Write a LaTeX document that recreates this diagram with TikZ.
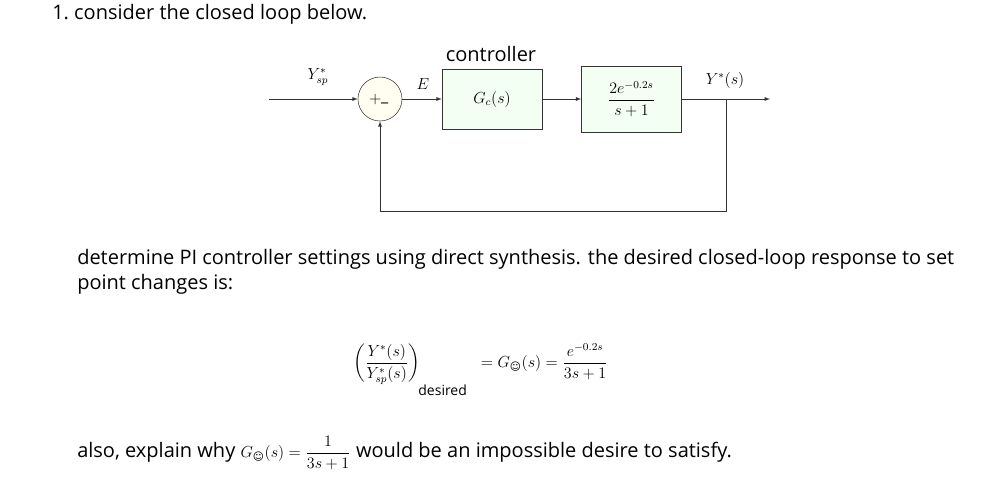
\documentclass[tikz,border=0pt]{standalone}
\usepackage{amsmath}
\usepackage{fontspec}
\setmainfont{Open Sans}
\newfontfamily\djf{DejaVu Sans}
\newcommand{\smil}{\text{\djf\char"263A}}
\begin{document}
\begin{tikzpicture}[x=0.75pt,y=-0.75pt,font=\fontsize{15}{18}\selectfont,
  blk/.style={draw=black!80,fill=green!5,minimum width=75pt,minimum height=45pt,inner sep=0pt},
  sig/.style={draw=black!80,-latex,thin},
  txt/.style={anchor=west,inner sep=0pt}]
\useasboundingbox (0,0) rectangle (997,487);
\node[txt] (t1) at (52,14) {1.\ consider the closed loop below.};
\node[draw=black!80,fill=yellow!6,circle,minimum size=33pt,inner sep=0pt] (sum) at (380,99) {};
\node at ([xshift=-3.5pt]sum.center) {\large$+$};
\node at ([xshift=3.5pt,yshift=-3pt]sum.center) {\large$\_$};
\node[blk] (gc) at (492,99) {\large$G_c(s)$};
\node[blk,minimum height=49.5pt] (gp) at (631.5,99) {\large$\dfrac{2e^{-0.2s}}{s+1}$};
\coordinate (in) at (269,99);
\coordinate (out) at (770,99);
\coordinate (br) at (726,99);
\coordinate (bl) at (726,211);
\coordinate (bs) at (380,211);
\draw[sig] (in) -- (sum.west);
\draw[sig] (sum.east) -- (gc.west);
\draw[sig] (gc.east) -- (gp.west);
\draw[sig] (gp.east) -- (out);
\draw[sig] (br) -- (bl) -- (bs) -- (sum.south);
\node (lsp) at (318,77) {\large$Y_{sp}^*$};
\node (le) at (423,84) {\large$E$};
\node (lc) at (491,54) {controller};
\node (ly) at (725,80) {\large$Y^*(s)$};
\node[txt,align=left] (t2) at (77,272) {determine PI controller settings using direct synthesis. the desired closed-loop response to set\\[1pt]point changes is:};
\node[txt] (eq) at (353,370) {\large$\left(\dfrac{Y^*(s)}{Y_{sp}^*(s)}\right)_{\!\raisebox{-8pt}{\fontsize{10.5}{12}\selectfont desired}}\;\;= G_{\smil}(s) = \dfrac{e^{-0.2s}}{3s+1}$};
\node[txt] (t3) at (77,453) {also, explain why \large$G_{\smil}(s) = \dfrac{1}{3s+1}$\fontsize{15}{18}\selectfont\ would be an impossible desire to satisfy.};
\end{tikzpicture}
\end{document}
